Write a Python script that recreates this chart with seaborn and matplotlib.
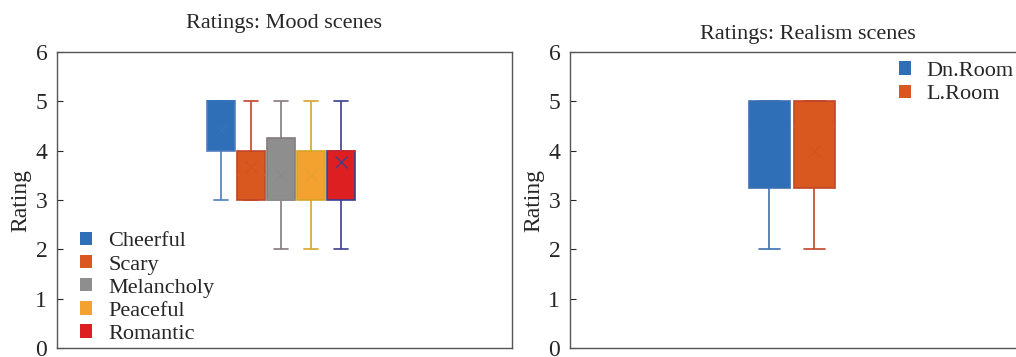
import matplotlib
matplotlib.use("Agg")
import matplotlib.pyplot as plt
import pandas as pd
import seaborn as sns

# Ratings (quartiles / whiskers chosen to match the boxes)
mood_names = ["Cheerful", "Scary", "Melancholy", "Peaceful", "Romantic"]
cheerful = [3, 4, 4, 5, 5, 5, 5]
scary = [3, 3, 3, 4, 4, 5]
melancholy = [2, 3, 3, 3, 3, 4, 5, 5]
peaceful = [2, 3, 3, 4, 4, 5]
romantic = [2, 3, 3, 4, 4, 4, 4, 5, 5]

room_names = ["Dn.Room", "L.Room"]
dn_room = [2, 3, 4, 5, 5, 5]
l_room = [2, 3, 4, 5, 5, 5]

mood_colors = ["#2f6fb8", "#d9581f", "#8e8e8e", "#f3a12f", "#de1f22"]
mood_lines = ["#4f7fc0", "#c2452a", "#857b7b", "#d6a52a", "#3b3f8f"]
room_colors = ["#2f6fb8", "#d9581f"]
room_lines = ["#3d6fb0", "#c2452a"]

mood_df = pd.DataFrame({
    "Rating": cheerful + scary + melancholy + peaceful + romantic,
    "Mood": sum([[n] * len(v) for n, v in zip(mood_names, [cheerful, scary, melancholy, peaceful, romantic])], []),
})
room_df = pd.DataFrame({
    "Rating": dn_room + l_room,
    "Room": sum([[n] * len(v) for n, v in zip(room_names, [dn_room, l_room])], []),
})

sns.set_style("white")
plt.rcParams["font.family"] = ["Liberation Serif", "DejaVu Serif"]

fig = plt.figure(figsize=(10.16, 3.57), dpi=100)
ax1 = fig.add_axes([57 / 1016, 9 / 357, 455 / 1016, 296 / 357])
ax2 = fig.add_axes([570 / 1016, 9 / 357, 475 / 1016, 296 / 357])


def draw(ax, df, hue, names, faces, lines, width, gap, mean_alpha):
    sns.boxplot(data=df, y="Rating", hue=hue, hue_order=names, palette=faces,
                width=width, gap=gap, whis=1.5, showmeans=True, showfliers=False,
                saturation=1, linewidth=1.2,
                meanprops=dict(marker="x", markersize=8), ax=ax)
    for cont, fc, lc, ma in zip(ax.containers, faces, lines, mean_alpha):
        for b in cont.boxes:
            b.set_facecolor(fc)
            b.set_edgecolor(lc)
        for ln in list(cont.whiskers) + list(cont.caps):
            ln.set_color(lc)
        for ln in cont.medians:
            ln.set_color(fc)
        for ln in cont.means:
            ln.set_markeredgecolor(lc)
            ln.set_alpha(ma)


draw(ax1, mood_df, "Mood", mood_names, mood_colors, mood_lines, 0.33, 0.07,
     [0.15, 0.3, 0.15, 0.3, 0.9])
draw(ax2, room_df, "Room", room_names, room_colors, room_lines, 0.19, 0.08, [0.2, 0.2])

ax1.set_xlim(-0.492, 0.508)
ax2.set_xlim(-0.467, 0.533)

for ax, title, pad in [(ax1, "Ratings: Mood scenes", 17), (ax2, "Ratings: Realism scenes", 9)]:
    ax.set_ylim(0, 6)
    ax.set_yticks(range(0, 7))
    ax.set_xticks([])
    ax.set_xlabel("")
    ax.set_ylabel("Rating", fontsize=17, labelpad=3)
    ax.set_title(title, fontsize=16, pad=pad)
    ax.tick_params(axis="y", direction="in", length=4, left=True, labelsize=17, pad=7)
    for s in ax.spines.values():
        s.set_color("#555555")
        s.set_linewidth(1.0)

leg1 = ax1.legend(loc="lower left", frameon=False, fontsize=16, handlelength=0.55, handleheight=0.55,
                  handletextpad=0.75, labelspacing=0.16, borderaxespad=0,
                  bbox_to_anchor=(0.03, -0.016))
leg2 = ax2.legend(loc="upper right", frameon=False, fontsize=16, handlelength=0.55, handleheight=0.55,
                  handletextpad=0.7, labelspacing=0.18, borderaxespad=0, borderpad=0.1,
                  bbox_to_anchor=(1.0, 1 - 59 / 357), bbox_transform=fig.transFigure)
for leg in (leg1, leg2):
    for h in leg.legend_handles:
        h.set_edgecolor("none")

fig.savefig("out.png", dpi=100)
